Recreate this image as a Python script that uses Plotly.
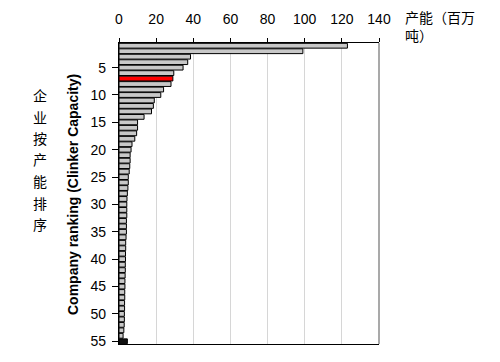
import plotly.graph_objects as go

ranks = list(range(1, 56))
capacity = [
    123, 99, 38.5, 37, 34.5, 29.5, 29, 28, 24, 22.5,
    19, 18.5, 17.5, 13.5, 10, 10, 9.5, 8.5, 7, 6.5,
    6, 6, 5.8, 5.5, 5, 5, 4.8, 4.5, 4.3, 4.2,
    4.2, 4.2, 4.0, 4.0, 4.0, 3.8, 3.6, 3.6, 3.5, 3.5,
    3.4, 3.4, 3.3, 3.2, 3.2, 3.1, 3.1, 3.0, 3.0, 2.9,
    2.9, 2.8, 2.6, 2.2, 4.5,
]
highlight_rank = 7
last_rank = 55
x_ticks = [0, 20, 40, 60, 80, 100, 120, 140]
y_ticks = [5, 10, 15, 20, 25, 30, 35, 40, 45, 50, 55]
y_title = "Company ranking (Clinker Capacity)"
y_title_cn = "企业按产能排序"
x_title_cn = "产能（百万<br>吨）"

colors = []
for r in ranks:
    if r == highlight_rank:
        colors.append("#ff0000")
    elif r == last_rank:
        colors.append("#111111")
    else:
        colors.append("#c8c8c8")

fig = go.Figure(go.Bar(
    x=capacity, y=ranks, orientation="h",
    marker=dict(color=colors, line=dict(color="#000000", width=1)),
    width=0.88,
))

# page body has an 8px margin; compensate so the plot lands where the reference has it
OFF = 8
W, H = 500 - OFF, 362 - OFF
L, T = 119 - OFF, 43 - OFF
R = W - (379 - OFF)
B = H - (344 - OFF)

fig.update_layout(
    width=W, height=H,
    margin=dict(l=L, r=R, t=T, b=B, autoexpand=False),
    paper_bgcolor="white", plot_bgcolor="white",
    showlegend=False,
    font=dict(family="Liberation Sans, Arial, sans-serif", size=14, color="#000"),
    xaxis=dict(
        side="top", range=[0, 140], tickvals=x_ticks, automargin=False,
        showgrid=True, gridcolor="#d6d6d6", gridwidth=1,
        showline=True, linecolor="#000", linewidth=1.2, mirror=True,
        ticks="outside", ticklen=4, tickcolor="#000",
        ticklabelstandoff=8, zeroline=False,
    ),
    yaxis=dict(
        range=[55.5, 0.5], tickvals=y_ticks, automargin=False,
        showgrid=False, zeroline=False,
        showline=True, linecolor="#000", linewidth=1.2,
        ticks="outside", ticklen=6, tickcolor="#000",
        ticklabelstandoff=3,
    ),
    shapes=[
        dict(type="line", xref="paper", yref="paper", x0=1, x1=1, y0=0, y1=1,
             line=dict(color="#8c8c8c", width=1.5)),
    ],
)

ph = H - T - B
pw = W - L - R
def py(ypix):
    return 1 - (ypix - OFF - T) / ph
def px(xpix):
    return (xpix - OFF - L) / pw

ann = []
ann.append(dict(text="<b>" + y_title + "</b>", textangle=-90, x=px(73), y=py(195),
                xref="paper", yref="paper", xanchor="center", yanchor="middle",
                showarrow=False,
                font=dict(size=14, family="Liberation Sans, Arial, sans-serif")))
for i, ch in enumerate(y_title_cn):
    ann.append(dict(text=ch, x=px(40), y=py(95 + i * 21.5), xref="paper", yref="paper",
                    xanchor="center", yanchor="middle", showarrow=False,
                    font=dict(size=14, family="Noto Sans CJK SC")))
ann.append(dict(text=x_title_cn, x=px(403), y=py(5), xref="paper", yref="paper",
                xanchor="left", yanchor="top", align="left", showarrow=False,
                font=dict(size=14, family="Noto Sans CJK SC")))
fig.update_layout(annotations=ann)

fig.write_html("out.html")
